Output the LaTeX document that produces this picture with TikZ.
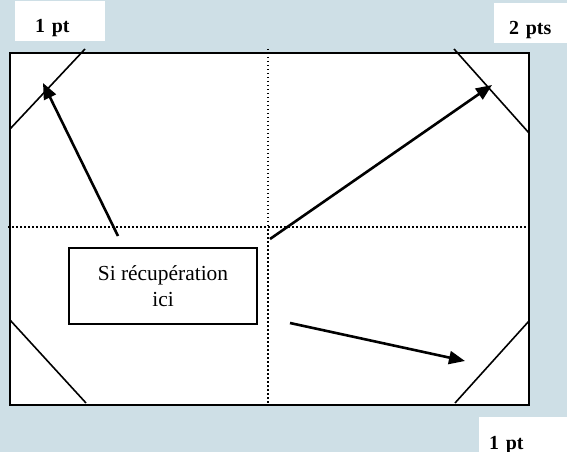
\documentclass[tikz,border=0pt]{standalone}
\usepackage{fontspec}
\setmainfont{Liberation Serif}
\usetikzlibrary{arrows.meta}
\definecolor{fond}{RGB}{206,223,230}

\begin{document}
\begin{tikzpicture}[x=1bp, y=-1bp, >={Triangle[length=16bp,width=13bp]},
    etiq/.style={fill=white, anchor=west, minimum height=40bp, inner ysep=0pt, text height=23bp, text depth=0pt, font=\fontsize{20}{24}\selectfont\bfseries},
    cadre/.style={draw, line width=2bp},
    coin/.style={line width=1.6bp},
    axe/.style={line width=1.5bp, dash pattern=on 1.5bp off 2.5bp},
    fleche/.style={->, line width=2.6bp},
    boite/.style={draw, line width=1.8bp, minimum width=188bp, minimum height=76bp, align=center, font=\fontsize{21.5}{26}\selectfont}
]
    \useasboundingbox (0,0) rectangle (567,452);
    \fill[fond] (0,0) rectangle (567,452);
    % terrain
    \draw[cadre, fill=white] (10,53) rectangle (529,405);
    \draw[axe] (268,49) -- (268,405);
    \draw[axe] (8,227) -- (529,227);
    % coins
    \draw[coin] (85,49) -- (10,129);
    \draw[coin] (454,49) -- (529,133);
    \draw[coin] (10,320) -- (86,403);
    \draw[coin] (529,321) -- (455,403);
    % etiquettes
    \node[etiq, text width=50bp, inner xsep=20bp] (un) at (15,21) {1 pt};
    \node[etiq, text width=43bp, inner xsep=15bp] (deux) at (494,23) {2 pts};
    \node[etiq, text width=68bp, inner xsep=10bp, minimum height=35bp, text height=29bp] (unbas) at (479,434.5) {1 pt};
    \node[boite] (recup) at (163,286) {Si récupération\\ici};
    % fleches
    \coordinate (d1) at (118,236);
    \coordinate (a1) at (43,83);
    \coordinate (d2) at (270,239);
    \coordinate (a2) at (492,85);
    \coordinate (d3) at (290,323);
    \coordinate (a3) at (465,361);
    \draw[fleche] (d1) -- (a1);
    \draw[fleche] (d2) -- (a2);
    \draw[fleche] (d3) -- (a3);
\end{tikzpicture}
\end{document}
